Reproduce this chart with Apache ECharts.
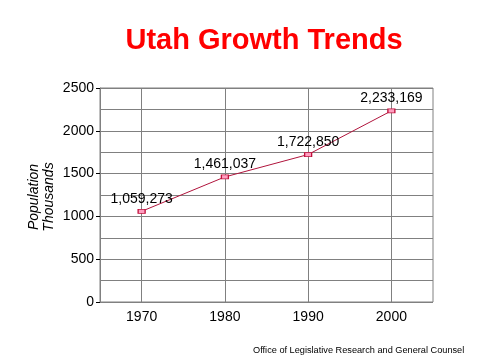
<!DOCTYPE html>
<html><head><meta charset="utf-8">
<script src="https://cdn.jsdelivr.net/npm/echarts@6/dist/echarts.min.js"></script>
<style>html,body{margin:0;padding:0;background:#fff}#c{width:480px;height:360px}</style>
</head><body><div id="c"></div>
<script>
var years = [1970, 1980, 1990, 2000];
var population = [1059.273, 1461.037, 1722.850, 2233.169];
var pointLabels = ['1,059,273', '1,461,037', '1,722,850', '2,233,169'];
var yTicks = [0, 500, 1000, 1500, 2000, 2500];

var chart = echarts.init(document.getElementById('c'));
var font = 'Liberation Sans, Arial, sans-serif';
chart.setOption({
  animation: false,
  title: {
    text: 'Utah Growth Trends',
    left: 259, top: 21, textAlign: 'center',
    textStyle: {color: '#ff0000', fontSize: 29, fontWeight: 'bold', fontFamily: font}
  },
  graphic: [{
    type: 'text', left: 253, top: 346,
    style: {text: 'Office of Legislative Research and General Counsel', fill: '#000', font: '9.2px ' + font}
  }, {
    type: 'text', x: 42, y: 197, rotation: Math.PI / 2,
    style: {text: 'Population\nThousands', fill: '#000', font: 'italic 14px ' + font, align: 'center', verticalAlign: 'middle', lineHeight: 15}
  }],
  grid: {left: 100, right: 47, top: 88, bottom: 58, show: true, borderColor: '#808080', borderWidth: 1},
  xAxis: {
    type: 'value', min: 1965, max: 2005, interval: 5,
    axisLine: {show: false}, axisTick: {show: false},
    axisLabel: {
      margin: 8, color: '#000', fontSize: 14, fontFamily: font,
      formatter: function (v) { return years.indexOf(v) >= 0 ? String(v) : ''; }
    },
    splitLine: {show: true, lineStyle: {color: ['rgba(0,0,0,0)', '#808080'], width: 1}}
  },
  yAxis: {
    type: 'value', min: 0, max: 2500, interval: 500,
    axisLine: {show: true, lineStyle: {color: '#808080'}},
    axisTick: {show: true, length: 4, lineStyle: {color: '#000'}},
    axisLabel: {margin: 6, color: '#000', fontSize: 14, fontFamily: font,
      formatter: function (v) { return yTicks.indexOf(v) >= 0 ? String(v) : ''; }},
    splitLine: {show: true, lineStyle: {color: '#808080'}},
    minorTick: {show: false, splitNumber: 2},
    minorSplitLine: {show: true, lineStyle: {color: '#808080'}}
  },
  series: [{
    type: 'line',
    data: years.map(function (y, i) { return [y, population[i]]; }),
    lineStyle: {color: '#b0143c', width: 1},
    symbol: 'rect', symbolSize: [7, 4], showAllSymbol: true,
    itemStyle: {color: '#ff9fc0', borderColor: '#c0103c', borderWidth: 1},
    label: {
      show: true, position: 'top', distance: 3, color: '#000', fontSize: 14, fontFamily: font,
      formatter: function (p) { return pointLabels[p.dataIndex]; }
    }
  }]
});
</script></body></html>
